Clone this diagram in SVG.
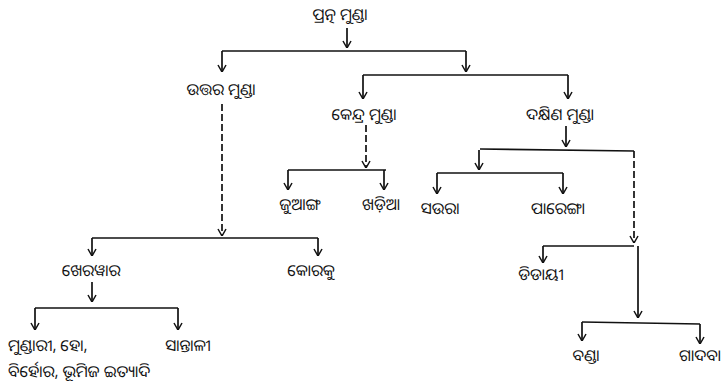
<svg xmlns="http://www.w3.org/2000/svg" width="725" height="390" viewBox="0 0 725 390">
<style>
text{font-family:"Noto Sans Oriya","Noto Sans","DejaVu Sans",sans-serif;font-size:16px;fill:#111;text-anchor:middle}
.l{text-anchor:start}
line,path{stroke:#111;stroke-width:1.7;fill:none}
.d{stroke-dasharray:7 3}
</style>
<defs>
<marker id="a" viewBox="0 0 10 10" refX="10" refY="5" markerWidth="10" markerHeight="10" markerUnits="userSpaceOnUse" orient="auto">
<path d="M3,1 L10,5 L3,9" style="stroke:#111;stroke-width:1.5;fill:none"/>
</marker>
</defs>
<g id="connectors">
<line x1="347" y1="28" x2="347" y2="48" marker-end="url(#a)"/>
<line x1="222" y1="51" x2="466" y2="51"/>
<line x1="222" y1="51" x2="222" y2="72" marker-end="url(#a)"/>
<line x1="466" y1="51" x2="466" y2="72" marker-end="url(#a)"/>
<line class="d" x1="222" y1="104" x2="222" y2="236" marker-end="url(#a)"/>
<line x1="92" y1="238" x2="318" y2="238"/>
<line x1="92" y1="238" x2="92" y2="256" marker-end="url(#a)"/>
<line x1="318" y1="238" x2="318" y2="256" marker-end="url(#a)"/>
<line x1="363" y1="75" x2="568" y2="75"/>
<line x1="363" y1="75" x2="363" y2="99" marker-end="url(#a)"/>
<line x1="568" y1="75" x2="568" y2="99" marker-end="url(#a)"/>
<line class="d" x1="366" y1="125" x2="366" y2="168" marker-end="url(#a)"/>
<line x1="288" y1="170" x2="386" y2="170"/>
<line x1="288" y1="170" x2="288" y2="190" marker-end="url(#a)"/>
<line x1="384" y1="170" x2="384" y2="190" marker-end="url(#a)"/>
<line x1="566" y1="126" x2="566" y2="147" marker-end="url(#a)"/>
<line x1="480" y1="149" x2="634" y2="151"/>
<line x1="479" y1="150" x2="479" y2="170" marker-end="url(#a)"/>
<line x1="437" y1="173" x2="563" y2="173"/>
<line x1="437" y1="173" x2="437" y2="194" marker-end="url(#a)"/>
<line x1="563" y1="173" x2="563" y2="194" marker-end="url(#a)"/>
<line class="d" x1="634" y1="151" x2="634" y2="243" marker-end="url(#a)"/>
<line x1="543" y1="246" x2="634" y2="246"/>
<line x1="543" y1="246" x2="543" y2="263" marker-end="url(#a)"/>
<line x1="638" y1="246" x2="638" y2="318" marker-end="url(#a)"/>
<line x1="582" y1="322" x2="700" y2="324"/>
<line x1="582" y1="322" x2="582" y2="341" marker-end="url(#a)"/>
<line x1="700" y1="324" x2="700" y2="344" marker-end="url(#a)"/>
<line x1="92" y1="282" x2="92" y2="302" marker-end="url(#a)"/>
<line x1="35" y1="308" x2="178" y2="308"/>
<line x1="35" y1="308" x2="35" y2="330" marker-end="url(#a)"/>
<line x1="178" y1="308" x2="178" y2="330" marker-end="url(#a)"/>
</g>
<g id="proto"><text x="340" y="20">ପ୍ରତ୍ନ ମୁଣ୍ଡା</text></g>
<g id="north"><text x="221" y="95">ଉତ୍ତର ମୁଣ୍ଡା</text></g>
<g id="central"><text x="364" y="120">କେନ୍ଦ୍ର ମୁଣ୍ଡା</text></g>
<g id="south"><text x="560" y="120">ଦକ୍ଷିଣ ମୁଣ୍ଡା</text></g>
<g id="juang"><text x="300" y="210">ଜୁଆଙ୍ଗ</text></g>
<g id="kharia"><text x="381" y="210">ଖଡ଼ିଆ</text></g>
<g id="saora"><text x="440" y="214">ସଉରା</text></g>
<g id="parenga"><text x="558" y="214">ପାରେଙ୍ଗା</text></g>
<g id="kherwari"><text x="91" y="276">ଖେରୱାର</text></g>
<g id="korku"><text x="311" y="276">କୋରକୁ</text></g>
<g id="didayi"><text x="541" y="280">ଡିଡାୟୀ</text></g>
<g id="bonda"><text x="586" y="361">ବଣ୍ଡା</text></g>
<g id="gadaba"><text x="700" y="361">ଗାଦବା</text></g>
<g id="mundari"><text class="l" x="8" y="351">ମୁଣ୍ଡାରୀ, ହୋ,</text><text class="l" x="8" y="377">ବିର୍ହୋର, ଭୂମିଜ ଇତ୍ୟାଦି</text></g>
<g id="santali"><text x="188" y="351">ସାନ୍ତାଳୀ</text></g>
</svg>
